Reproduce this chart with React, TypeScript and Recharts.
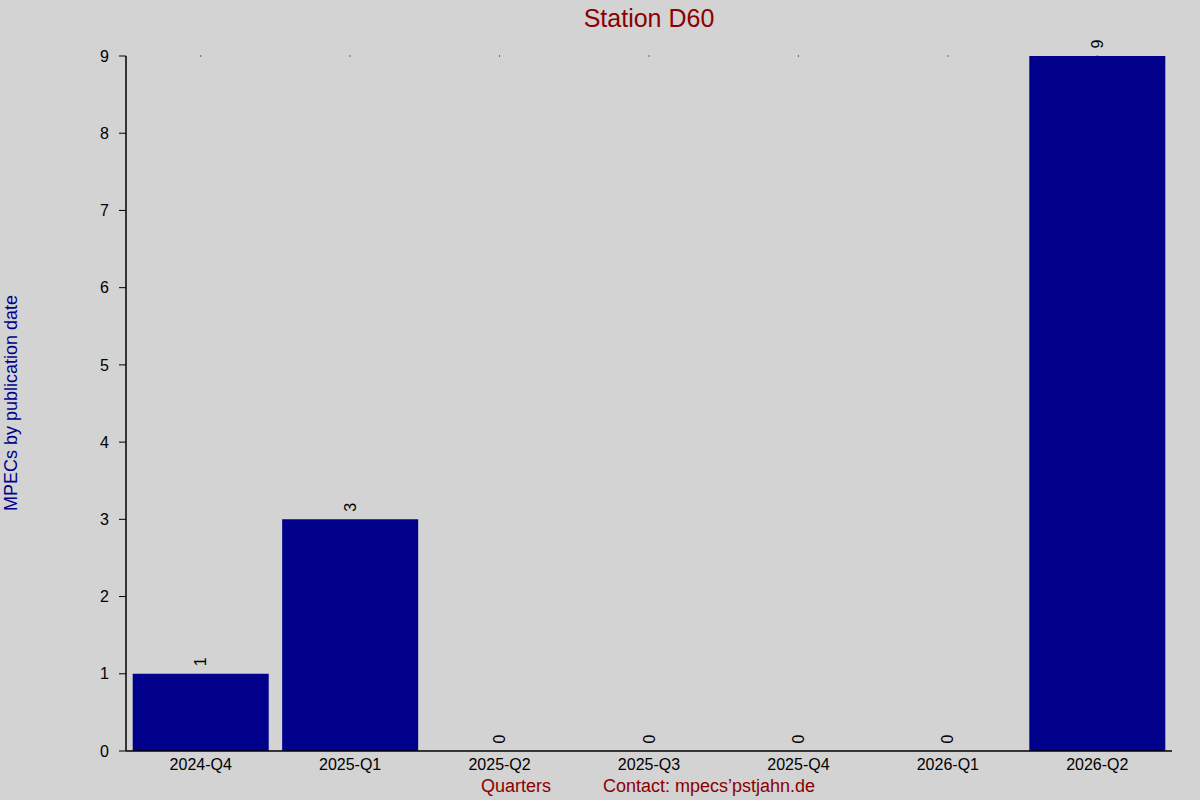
import React from 'react';
import { Bar, ComposedChart, LabelList, Line, XAxis, YAxis } from 'recharts';

const quarters = ['2024-Q4', '2025-Q1', '2025-Q2', '2025-Q3', '2025-Q4', '2026-Q1', '2026-Q2'];
const mpecCounts = [1, 3, 0, 0, 0, 0, 9];
const topMarks = [9, 9, 9, 9, 9, 9, 9];
const yTicks = [0, 1, 2, 3, 4, 5, 6, 7, 8, 9];

const FONT = '"Liberation Sans", Arial, sans-serif';
const DARK_RED = '#8b0000';
const NAVY = '#00008b';

const chartData = quarters.map((q, i) => ({
  quarter: q,
  count: mpecCounts[i],
  mark: topMarks[i],
}));

// rotated count label, sits just above the bar top (also for zero bars)
const ValueLabel = (props: any) => {
  const { x, y, value } = props;
  if (x == null || y == null) {
    return null;
  }
  const cx = Number(x);
  const cy = Number(y) - 12;
  return (
    <text
      x={cx}
      y={cy}
      transform={`rotate(-90 ${cx} ${cy})`}
      textAnchor="middle"
      dominantBaseline="central"
      fontSize={16}
      fontFamily={FONT}
      fill="#000"
    >
      {value}
    </text>
  );
};

const TopMark = (props: any) => {
  const { cx, cy } = props;
  if (cx == null || cy == null) {
    return null;
  }
  return <rect x={cx - 0.5} y={cy - 0.5} width={1} height={1} fill="#000" />;
};

const App: React.FC = () => {
  return (
    <div style={{ position: 'absolute', left: 0, top: 0, width: 1200, height: 800, background: '#d3d3d3', fontFamily: FONT }}>
      <svg width={1200} height={800} style={{ position: 'absolute', left: 0, top: 0 }}>
        <text x={649} y={18} textAnchor="middle" dominantBaseline="central" fontSize={25} fill={DARK_RED} fontFamily={FONT}>
          Station D60
        </text>
        <text
          x={11}
          y={403}
          transform="rotate(-90 11 403)"
          textAnchor="middle"
          dominantBaseline="central"
          fontSize={18}
          fill={NAVY}
          fontFamily={FONT}
        >
          MPECs by publication date
        </text>
        <text x={516} y={786} textAnchor="middle" dominantBaseline="central" fontSize={18} fill={DARK_RED} fontFamily={FONT}>
          Quarters
        </text>
        <text x={603} y={786} textAnchor="start" dominantBaseline="central" fontSize={18} fill={DARK_RED} fontFamily={FONT}>
          Contact: mpecs’pstjahn.de
        </text>
      </svg>
      <div style={{ position: 'absolute', left: 0, top: 0 }}>
        <ComposedChart
          width={1200}
          height={800}
          data={chartData}
          margin={{ top: 56, right: 28, left: 66, bottom: 19 }}
          barCategoryGap="4.5%"
        >
          <XAxis
            dataKey="quarter"
            height={30}
            tickLine={false}
            axisLine={{ stroke: '#000', strokeWidth: 1.5 }}
            tick={{ fontSize: 16, fill: '#000', fontFamily: FONT }}
            interval={0}
          />
          <YAxis
            width={60}
            domain={[0, 9]}
            ticks={yTicks}
            interval={0}
            tickSize={7}
            tickLine={{ stroke: '#000' }}
            axisLine={{ stroke: '#000', strokeWidth: 1.5 }}
            tick={{ fontSize: 16, fill: '#000', fontFamily: FONT }}
            tickMargin={10}
          />
          <Bar dataKey="count" fill={NAVY} isAnimationActive={false} />
          <Line
            dataKey="count"
            stroke="none"
            dot={false}
            activeDot={false}
            isAnimationActive={false}
          >
            <LabelList dataKey="count" content={<ValueLabel />} />
          </Line>
          <Line
            dataKey="mark"
            stroke="none"
            dot={<TopMark />}
            activeDot={false}
            isAnimationActive={false}
          />
        </ComposedChart>
      </div>
    </div>
  );
};

export default App;
